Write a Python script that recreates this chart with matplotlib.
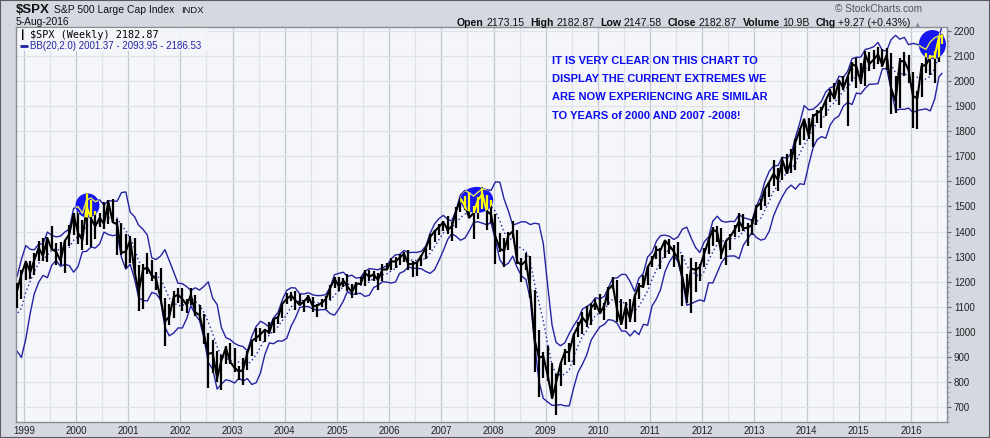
import numpy as np
import pandas as pd
import matplotlib
matplotlib.use("Agg")
import matplotlib.pyplot as plt
from matplotlib.patches import Ellipse, Rectangle
from matplotlib.ticker import MultipleLocator

# monthly S&P 500 bars, Apr 1998 .. 5-Aug-2016
start_month = "1998-04"
end_month = "2016-08"
last_date = "2016-08-05"

close = [
    1112, 1091, 1134, 1121, 957, 1017, 1099, 1164, 1229,                    # 1998
    1280, 1238, 1286, 1335, 1302, 1373, 1329, 1320, 1283, 1363, 1389, 1469,  # 1999
    1394, 1366, 1499, 1452, 1421, 1455, 1431, 1518, 1437, 1429, 1315, 1320,  # 2000
    1366, 1240, 1160, 1249, 1256, 1224, 1211, 1134, 1041, 1060, 1139, 1148,  # 2001
    1130, 1107, 1147, 1077, 1067, 990, 912, 916, 815, 886, 936, 880,         # 2002
    856, 841, 848, 917, 964, 975, 990, 1008, 996, 1051, 1058, 1112,          # 2003
    1131, 1145, 1126, 1107, 1121, 1141, 1102, 1104, 1115, 1130, 1174, 1212,  # 2004
    1181, 1204, 1181, 1157, 1192, 1191, 1234, 1220, 1229, 1207, 1249, 1248,  # 2005
    1280, 1281, 1295, 1311, 1270, 1270, 1277, 1304, 1336, 1378, 1401, 1418,  # 2006
    1438, 1407, 1421, 1482, 1531, 1503, 1455, 1474, 1527, 1549, 1481, 1468,  # 2007
    1379, 1331, 1323, 1386, 1400, 1280, 1267, 1283, 1166, 969, 896, 903,     # 2008
    826, 735, 798, 873, 919, 919, 987, 1021, 1057, 1036, 1096, 1115,         # 2009
    1074, 1104, 1169, 1187, 1089, 1031, 1102, 1049, 1141, 1183, 1181, 1258,  # 2010
    1286, 1327, 1326, 1364, 1345, 1321, 1292, 1219, 1131, 1253, 1247, 1258,  # 2011
    1312, 1366, 1408, 1398, 1310, 1362, 1379, 1407, 1441, 1412, 1416, 1426,  # 2012
    1498, 1515, 1569, 1598, 1631, 1606, 1686, 1633, 1682, 1757, 1806, 1848,  # 2013
    1783, 1859, 1872, 1884, 1924, 1960, 1931, 2003, 1972, 2018, 2068, 2059,  # 2014
    1995, 2105, 2068, 2086, 2107, 2063, 2104, 1972, 1920, 2079, 2080, 2044,  # 2015
    1940, 1932, 2060, 2065, 2097, 2099, 2174, 2183,                          # 2016
]

high = [
    1130, 1123, 1146, 1191, 1121, 1066, 1103, 1193, 1245,
    1280, 1282, 1316, 1362, 1375, 1380, 1421, 1353, 1357, 1363, 1425, 1474,
    1478, 1445, 1553, 1527, 1481, 1475, 1518, 1525, 1530, 1450, 1433, 1390,
    1383, 1376, 1268, 1269, 1316, 1287, 1239, 1255, 1135, 1111, 1163, 1173,
    1176, 1131, 1173, 1147, 1107, 1070, 994, 966, 924, 906, 944, 954,
    935, 864, 895, 924, 965, 1015, 1016, 1011, 1040, 1054, 1064, 1112,
    1156, 1159, 1163, 1151, 1128, 1147, 1140, 1109, 1131, 1142, 1185, 1218,
    1217, 1213, 1229, 1192, 1200, 1219, 1246, 1245, 1243, 1233, 1270, 1276,
    1295, 1297, 1311, 1318, 1326, 1284, 1280, 1306, 1340, 1390, 1407, 1431,
    1441, 1461, 1438, 1498, 1535, 1540, 1556, 1503, 1539, 1576, 1545, 1524,
    1471, 1396, 1374, 1397, 1440, 1405, 1293, 1314, 1303, 1167, 1008, 918,
    944, 876, 832, 878, 930, 957, 996, 1039, 1080, 1101, 1113, 1130,
    1150, 1113, 1180, 1220, 1206, 1131, 1120, 1130, 1150, 1196, 1227, 1263,
    1303, 1344, 1333, 1365, 1370, 1346, 1357, 1307, 1230, 1293, 1277, 1269,
    1333, 1378, 1419, 1422, 1415, 1363, 1392, 1426, 1475, 1470, 1434, 1448,
    1504, 1530, 1570, 1598, 1687, 1654, 1698, 1709, 1730, 1768, 1813, 1850,
    1851, 1868, 1884, 1897, 1925, 1968, 1991, 2006, 2019, 2019, 2075, 2094,
    2072, 2119, 2118, 2126, 2135, 2130, 2133, 2113, 2021, 2094, 2117, 2104,
    2038, 1962, 2073, 2111, 2104, 2121, 2178, 2183,
]

low = [
    1076, 1074, 1074, 1114, 940, 940, 923, 1093, 1132,
    1205, 1210, 1226, 1282, 1281, 1277, 1328, 1268, 1268, 1233, 1342, 1387,
    1350, 1325, 1346, 1339, 1370, 1420, 1410, 1430, 1435, 1305, 1307, 1254,
    1275, 1229, 1081, 1091, 1232, 1203, 1165, 1124, 944, 1026, 1054, 1114,
    1081, 1074, 1107, 1064, 1048, 952, 776, 834, 800, 768, 873, 872,
    840, 806, 789, 847, 902, 958, 962, 960, 990, 995, 1031, 1053,
    1110, 1123, 1088, 1105, 1077, 1114, 1078, 1060, 1100, 1090, 1127, 1173,
    1164, 1180, 1163, 1136, 1146, 1188, 1183, 1201, 1201, 1168, 1201, 1246,
    1245, 1253, 1268, 1280, 1245, 1219, 1224, 1261, 1290, 1327, 1360, 1385,
    1403, 1389, 1364, 1416, 1476, 1485, 1452, 1371, 1451, 1489, 1406, 1435,
    1271, 1317, 1257, 1325, 1373, 1272, 1200, 1247, 1133, 840, 741, 815,
    805, 735, 667, 784, 866, 881, 869, 979, 992, 1020, 1029, 1085,
    1071, 1045, 1105, 1170, 1040, 1028, 1011, 1040, 1040, 1131, 1173, 1185,
    1257, 1289, 1249, 1295, 1312, 1258, 1283, 1101, 1114, 1075, 1159, 1202,
    1259, 1312, 1341, 1358, 1292, 1267, 1325, 1378, 1397, 1403, 1343, 1385,
    1426, 1485, 1501, 1536, 1582, 1560, 1605, 1628, 1633, 1646, 1746, 1767,
    1770, 1737, 1834, 1814, 1860, 1915, 1930, 1905, 1964, 1821, 2001, 1972,
    1988, 1981, 2040, 2048, 2067, 2056, 2044, 1867, 1872, 1893, 2019, 1993,
    1812, 1810, 1937, 2034, 2025, 1992, 2075, 2148,
]

# highlighted tops drawn on the chart (center date, center level, width in years, height in points)
highlight_x = [2000.22, 2007.68, 2016.41]
highlight_y = [1504, 1526, 2146]
highlight_w = [0.46, 0.63, 0.52]
highlight_h = [96, 104, 116]

note_lines = [
    "IT IS VERY CLEAR ON THIS CHART TO",
    "DISPLAY THE CURRENT EXTREMES WE",
    "ARE NOW EXPERIENCING ARE SIMILAR",
    "TO YEARS of 2000 AND 2007 -2008!",
]

header_stats = [("Open", "2173.15"), ("High", "2182.87"), ("Low", "2147.58"),
                ("Close", "2182.87"), ("Volume", "10.9B"), ("Chg", "+9.27 (+0.43%)")]

BB_WINDOW = 5   # 5 months ~ 20 weeks
BB_STD = 2.0

# ---- dates as decimal years
periods = pd.period_range(start_month, end_month, freq="M")
dates = periods.to_timestamp() + pd.Timedelta(days=14)
dates = dates[:-1].append(pd.DatetimeIndex([pd.Timestamp(last_date)]))
x = np.array(dates.year + (dates.dayofyear - 1) / np.where(dates.is_leap_year, 366, 365))

df = pd.DataFrame({"close": close, "high": high, "low": low}, index=x)
mid = df["close"].rolling(BB_WINDOW).mean()
sd = df["close"].rolling(BB_WINDOW).std(ddof=0)
upper = mid + BB_STD * sd
lower = mid - BB_STD * sd

plt.rcParams["font.family"] = ["Liberation Sans", "DejaVu Sans"]

fig = plt.figure(figsize=(9.9, 4.38), dpi=100)
fig.patch.set_facecolor("#d3d8e1")
fig.patches.append(Rectangle((0, 0), 1, 1, transform=fig.transFigure, fill=False,
                             edgecolor="#5a5a5a", lw=1.5))
ax = fig.add_axes([16 / 990, 16 / 438, 931 / 990, 395 / 438])
ax.set_facecolor("#f4f6fa")

navy = "#2323a0"
ax.plot(x, upper, color=navy, lw=1.0, zorder=2)
ax.plot(x, lower, color=navy, lw=1.0, zorder=2)
ax.plot(x, mid, color=navy, lw=1.0, ls=(0, (1, 2)), zorder=2)

ax.vlines(x, df["low"], df["high"], color="black", lw=1.6, zorder=3)
ax.plot(x, close, color="black", lw=1.5, zorder=3)

for cx, cy, w, h in zip(highlight_x, highlight_y, highlight_w, highlight_h):
    e = Ellipse((cx, cy), w, h, facecolor="#1616f2", edgecolor="none", zorder=4)
    ax.add_patch(e)
    yv = ax.vlines(x, df["low"], df["high"], color="#ffff00", lw=1.6, zorder=5)
    yv.set_clip_path(e)
    yl, = ax.plot(x, close, color="#ffff00", lw=1.5, zorder=5)
    yl.set_clip_path(e)
    yu, = ax.plot(x, upper, color="#e8e85a", lw=1.0, zorder=5)
    yu.set_clip_path(e)

ax.set_xlim(1998.85, 2016.69)
ax.set_ylim(640, 2216)

ax.xaxis.set_major_locator(MultipleLocator(1))
ax.xaxis.set_minor_locator(MultipleLocator(0.5))
ax.xaxis.set_major_formatter(plt.FuncFormatter(lambda v, p: f"{int(round(v))}"))
ax.yaxis.set_major_locator(MultipleLocator(100))
ax.yaxis.set_minor_locator(MultipleLocator(20))
ax.yaxis.tick_right()
ax.tick_params(axis="x", which="both", length=0, pad=3, labelsize=7, labelcolor="#222222")
ax.tick_params(axis="y", which="major", length=3, color="#666666", pad=2,
               labelsize=7, labelcolor="#222222")
ax.tick_params(axis="y", which="minor", length=1.5, color="#888888")
ax.set_yticks(np.arange(700, 2201, 100))
ax.grid(which="major", axis="x", color="#c4c8d0", lw=0.9, zorder=0)
ax.grid(which="minor", axis="x", color="#dfe2e8", lw=0.9, zorder=0)
ax.grid(which="major", axis="y", color="#dfe2e8", lw=0.9, zorder=0)
ax.set_axisbelow(True)
for s in ax.spines.values():
    s.set_color("#8a8d94")
    s.set_linewidth(1.0)

# ---- header
fig.text(16 / 990, 1 - 13 / 438, "$SPX", fontsize=9.5, fontweight="bold", color="#111111", va="baseline")
fig.text(54 / 990, 1 - 13 / 438, "S&P 500 Large Cap Index", fontsize=7.5, color="#111111", va="baseline")
fig.text(181 / 990, 1 - 13 / 438, "INDX", fontsize=6.8, color="#111111", va="baseline")
fig.text(16 / 990, 1 - 25 / 438, "5-Aug-2016", fontsize=7.4, color="#111111", va="baseline")
fig.text(922 / 990, 1 - 12 / 438, "\u00a9 StockCharts.com", fontsize=7.3, color="#555555",
         ha="right", va="baseline")

prev = fig.text(457 / 990, 1 - 26 / 438, header_stats[0][0], fontsize=7.6, fontweight="bold",
                color="#111111", va="baseline")
first = True
for label, value in header_stats:
    if not first:
        prev = ax.annotate(label, xy=(1, 0), xycoords=prev, xytext=(4, 0), textcoords="offset points",
                           fontsize=7.6, fontweight="bold", color="#111111", va="bottom",
                           annotation_clip=False)
    first = False
    prev = ax.annotate(value, xy=(1, 0), xycoords=prev, xytext=(2, 0), textcoords="offset points",
                       fontsize=7.6, color="#111111", va="bottom", annotation_clip=False)
ax.annotate("\u25b2", xy=(1, 0), xycoords=prev, xytext=(3, 0), textcoords="offset points",
            fontsize=5, color="#8a8d94", va="bottom", annotation_clip=False,
            family=["DejaVu Sans"])

# ---- legend box
ax.add_patch(Rectangle((0.002, 1 - 24 / 395), 190 / 931, 23 / 395, transform=ax.transAxes,
                       facecolor="#f4f6fa", edgecolor="none", alpha=0.85, zorder=6))
ax.text(4 / 931, 1 - 8 / 395, "\u2503", transform=ax.transAxes, fontsize=6.5, color="black",
        va="center", zorder=7, family=["DejaVu Sans"])
ax.text(14 / 931, 1 - 8 / 395, "$SPX (Weekly) 2182.87", transform=ax.transAxes, fontsize=7.3,
        color="black", va="center", zorder=7, family=["DejaVu Sans Mono"])
ax.plot([4 / 931, 12 / 931], [1 - 19 / 395] * 2, transform=ax.transAxes, color=navy, lw=2,
        zorder=7, solid_capstyle="butt")
ax.text(14 / 931, 1 - 19 / 395, "BB(20,2.0) 2001.37 - 2093.95 - 2186.53", transform=ax.transAxes,
        fontsize=7.0, color=navy, va="center", zorder=7)

# ---- note
for i, line in enumerate(note_lines):
    ax.text((552 - 16) / 931, (422 - 61 - 18.2 * i) / 395, line, transform=ax.transAxes,
            fontsize=8.0, fontweight="bold", color="#0c0cf0", va="center", ha="left", zorder=7)

fig.savefig("out.png", dpi=100, facecolor=fig.get_facecolor())
